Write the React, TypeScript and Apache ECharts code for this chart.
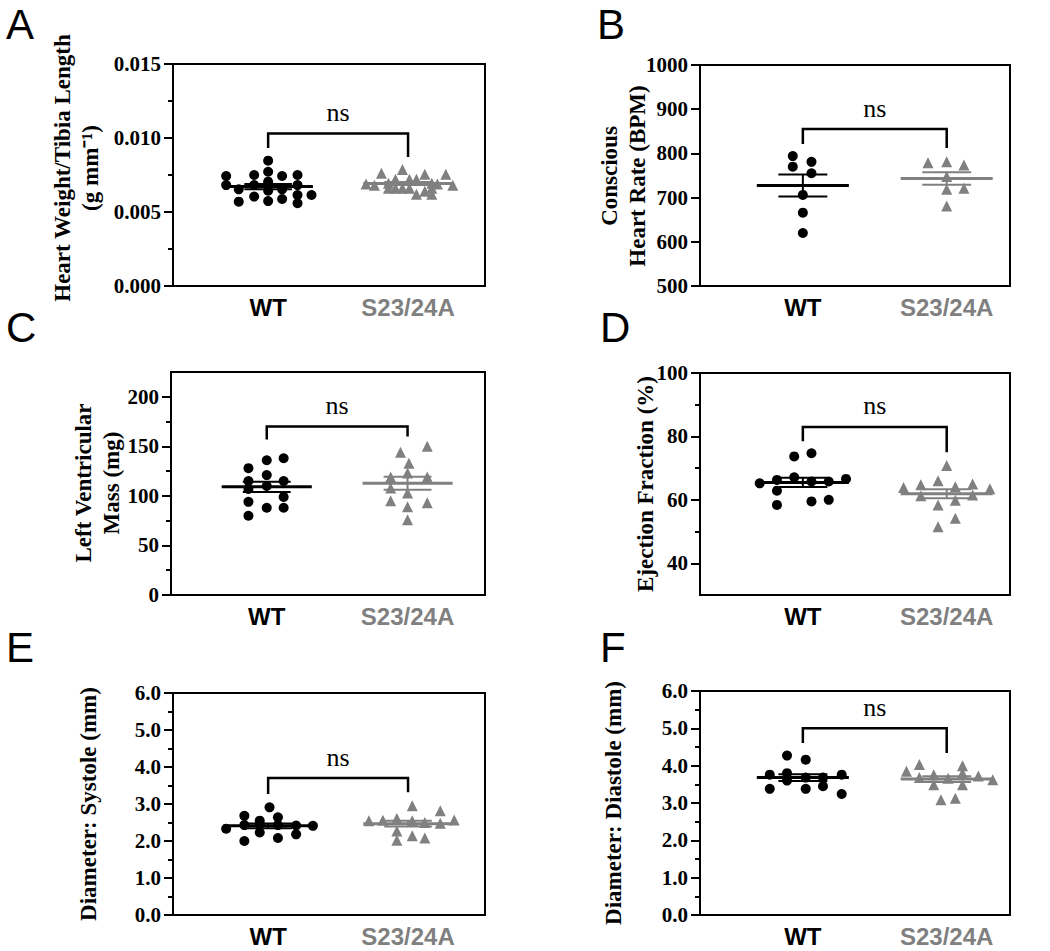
import React, { useEffect, useRef } from "react";
import * as echarts from "echarts";

// ---------- categories ----------
const categories = ["WT", "S23/24A"];

// ---------- Panel A: Heart weight / tibia length ----------
const hwWT = [0.00743, 0.00682, 0.00653, 0.0057, 0.0075, 0.00682, 0.00604, 0.00847, 0.00772, 0.00705, 0.00644, 0.00574, 0.00743, 0.00653, 0.00588, 0.0075, 0.00682, 0.00615, 0.00559, 0.00615];
const hwWTJitter = [-0.3, -0.3, -0.21, -0.21, -0.1, -0.1, -0.1, 0, 0, 0, 0, 0, 0.1, 0.1, 0.1, 0.21, 0.21, 0.21, 0.21, 0.31];
const hwS = [0.00761, 0.00788, 0.00755, 0.00755, 0.0069, 0.0068, 0.00721, 0.00721, 0.00721, 0.00694, 0.00694, 0.0069, 0.0068, 0.0066, 0.0066, 0.0066, 0.0066, 0.0064, 0.0066, 0.0062, 0.0062];
const hwSJitter = [-0.19, -0.04, 0.12, 0.27, -0.3, -0.24, -0.09, 0.01, 0.06, -0.14, 0.17, 0.21, 0.32, -0.14, -0.09, -0.04, 0.01, 0.12, 0.17, 0.06, 0.17];
const hwTicks = [0, 0.005, 0.01, 0.015];
const hwMinor = [0.0025, 0.0075, 0.0125];
const hwBracket = [0.0103, 0.00932, 0.00872];

// ---------- Panel B: Conscious heart rate ----------
const hrWT = [794, 770, 781, 755, 706, 666, 620];
const hrWTJitter = [-0.07, -0.07, 0.06, 0.06, 0, 0, 0];
const hrS = [779, 781, 774, 748, 719, 721, 681];
const hrSJitter = [-0.13, 0, 0.12, 0, 0, 0.12, 0];
const hrTicks = [500, 600, 700, 800, 900, 1000];
const hrMinor: number[] = [];
const hrBracket = [855, 821, 812];

// ---------- Panel C: Left ventricular mass ----------
const lvWT = [128, 115, 107, 94, 80, 136, 121, 110, 88, 138, 115, 99, 88];
const lvWTJitter = [-0.13, -0.13, -0.13, -0.13, -0.13, 0, 0, 0, 0, 0.12, 0.12, 0.12, 0.12];
const lvS = [133, 150, 119, 123, 119, 108, 103, 95, 93, 89, 76, 144];
const lvSJitter = [0.01, 0.14, -0.12, 0, 0.14, -0.12, 0, -0.12, 0.14, 0, 0, -0.05];
const lvTicks = [0, 50, 100, 150, 200];
const lvMinor = [25, 75, 125, 175];
const lvBracket = [170, 157, 160];

// ---------- Panel D: Ejection fraction ----------
const efWT = [65.2, 66.3, 62.9, 58.4, 73.7, 67.1, 74.7, 65.8, 59.5, 65.8, 60.0, 66.6];
const efWTJitter = [-0.3, -0.18, -0.18, -0.18, -0.06, -0.06, 0.06, 0.06, 0.06, 0.18, 0.18, 0.3];
const efS = [63.9, 64.8, 61.3, 66.0, 58.4, 51.5, 70.8, 64.1, 59.9, 54.2, 65.0, 61.5, 63.5];
const efSJitter = [-0.3, -0.18, -0.18, -0.06, -0.06, -0.06, 0, 0.06, 0.06, 0.06, 0.18, 0.18, 0.3];
const efTicks = [40, 60, 80, 100];
const efMinor = [50, 70, 90];
const efBracket = [83, 78.5, 75];

// ---------- Panel E: Diameter systole ----------
const dsWT = [2.91, 2.68, 2.64, 2.55, 2.33, 2.43, 2.45, 2.43, 2.42, 2.41, 2.23, 2.18, 2.08, 2.0];
const dsWTJitter = [0.01, -0.17, 0.07, -0.06, -0.3, -0.17, -0.06, 0.07, 0.2, 0.32, -0.06, 0.2, 0.07, -0.17];
const dsS = [2.95, 2.82, 2.57, 2.55, 2.56, 2.61, 2.27, 2.14, 2.08, 2.02, 2.5, 2.55, 2.48];
const dsSJitter = [0.03, 0.23, 0.33, -0.28, -0.18, -0.08, -0.08, 0.03, 0.12, -0.08, 0.12, 0.03, 0.23];
const dsTicks = [0, 1, 2, 3, 4, 5, 6];
const dsMinor = [0.5, 1.5, 2.5, 3.5, 4.5, 5.5];
const dsBracket = [3.7, 3.27, 3.32];

// ---------- Panel F: Diameter diastole ----------
const ddWT = [4.27, 4.16, 3.76, 3.8, 3.6, 3.68, 3.76, 3.38, 3.38, 3.45, 3.24, 3.68];
const ddWTJitter = [-0.11, 0.02, -0.23, -0.11, -0.11, 0.02, 0.27, -0.23, 0.02, 0.14, 0.27, 0.14];
const ddS = [3.85, 4.03, 3.76, 3.49, 4.0, 3.8, 3.49, 3.09, 3.13, 3.72, 3.62, 3.68, 3.66];
const ddSJitter = [-0.28, -0.19, -0.09, -0.09, 0.11, 0.11, 0.11, -0.04, 0.06, 0.22, 0.32, -0.19, 0.01];
const ddTicks = [0, 1, 2, 3, 4, 5, 6];
const ddMinor = [0.5, 1.5, 2.5, 3.5, 4.5, 5.5];
const ddBracket = [5.0, 4.61, 4.34];

// ---------- styles ----------
const WT_COLOR = "#000000";
const S_COLOR = "#808080";
const SERIF = "'Liberation Serif', 'Times New Roman', serif";
const SANS = "'Liberation Sans', Arial, sans-serif";

type Panel = {
  letter: string;
  letterPos: [number, number];
  title: string;
  titlePos: [number, number];
  grid: { left: number; top: number; width: number; height: number };
  xRange: [number, number];
  yRange: [number, number];
  ticks: number[];
  minor: number[];
  fmt: (v: number) => string;
  wt: number[];
  wtJ: number[];
  s: number[];
  sJ: number[];
  bracket: number[];
};

const LEFT_X: [number, number] = [0.32, 2.55];
const RIGHT_X: [number, number] = [0.285, 2.44];

const panels: Panel[] = [
  {
    letter: "A", letterPos: [6, 3],
    title: "Heart Weight/Tibia Length\n(g mm\u207B\u00B9)", titlePos: [76, 168],
    grid: { left: 173, top: 64, width: 312, height: 222 }, xRange: LEFT_X,
    yRange: [0, 0.015], ticks: hwTicks, minor: hwMinor, fmt: (v) => v.toFixed(3),
    wt: hwWT, wtJ: hwWTJitter, s: hwS, sJ: hwSJitter, bracket: hwBracket,
  },
  {
    letter: "B", letterPos: [597, 3],
    title: "Conscious\nHeart Rate (BPM)", titlePos: [623, 176],
    grid: { left: 700, top: 65, width: 310, height: 221 }, xRange: RIGHT_X,
    yRange: [500, 1000], ticks: hrTicks, minor: hrMinor, fmt: (v) => String(v),
    wt: hrWT, wtJ: hrWTJitter, s: hrS, sJ: hrSJitter, bracket: hrBracket,
  },
  {
    letter: "C", letterPos: [6, 306],
    title: "Left Ventricular\nMass (mg)", titlePos: [97, 483],
    grid: { left: 171, top: 372, width: 314, height: 223 }, xRange: LEFT_X,
    yRange: [0, 225], ticks: lvTicks, minor: lvMinor, fmt: (v) => String(v),
    wt: lvWT, wtJ: lvWTJitter, s: lvS, sJ: lvSJitter, bracket: lvBracket,
  },
  {
    letter: "D", letterPos: [600, 306],
    title: "Ejection Fraction (%)", titlePos: [645, 484],
    grid: { left: 700, top: 373, width: 310, height: 222 }, xRange: RIGHT_X,
    yRange: [30, 100], ticks: efTicks, minor: efMinor, fmt: (v) => String(v),
    wt: efWT, wtJ: efWTJitter, s: efS, sJ: efSJitter, bracket: efBracket,
  },
  {
    letter: "E", letterPos: [6, 626],
    title: "Diameter: Systole (mm)", titlePos: [88, 804],
    grid: { left: 173, top: 693, width: 312, height: 222 }, xRange: LEFT_X,
    yRange: [0, 6], ticks: dsTicks, minor: dsMinor, fmt: (v) => v.toFixed(1),
    wt: dsWT, wtJ: dsWTJitter, s: dsS, sJ: dsSJitter, bracket: dsBracket,
  },
  {
    letter: "F", letterPos: [600, 626],
    title: "Diameter: Diastole (mm)", titlePos: [613, 803],
    grid: { left: 700, top: 691, width: 310, height: 224 }, xRange: RIGHT_X,
    yRange: [0, 6], ticks: ddTicks, minor: ddMinor, fmt: (v) => v.toFixed(1),
    wt: ddWT, wtJ: ddWTJitter, s: ddS, sJ: ddSJitter, bracket: ddBracket,
  },
];

function meanSem(arr: number[]): [number, number] {
  const n = arr.length;
  const m = arr.reduce((a, b) => a + b, 0) / n;
  const v = arr.reduce((a, b) => a + (b - m) * (b - m), 0) / (n - 1);
  return [m, Math.sqrt(v / n)];
}

function buildOption() {
  const grid: any[] = [];
  const xAxis: any[] = [];
  const yAxis: any[] = [];
  const series: any[] = [];
  const graphic: any[] = [];

  panels.forEach((p, i) => {
    grid.push({ ...p.grid, show: true, borderColor: "#000", borderWidth: 2, backgroundColor: "transparent" });
    xAxis.push({
      gridIndex: i, type: "value", min: p.xRange[0], max: p.xRange[1],
      axisLine: { show: false }, axisTick: { show: false }, splitLine: { show: false },
      axisLabel: {
        customValues: [1, 2], margin: 9,
        formatter: (v: number) => (Math.abs(v - 1) < 1e-6 ? `{wt|${categories[0]}}` : `{s|${categories[1]}}`),
        rich: {
          wt: { color: WT_COLOR, fontFamily: SANS, fontWeight: "bold", fontSize: 24 },
          s: { color: S_COLOR, fontFamily: SANS, fontWeight: "bold", fontSize: 24 },
        },
      },
    });
    yAxis.push({
      gridIndex: i, type: "value", min: p.yRange[0], max: p.yRange[1], position: "left",
      axisLine: { show: true, lineStyle: { color: "#000", width: 2 } },
      axisTick: { show: true, customValues: p.ticks, length: 9, lineStyle: { color: "#000", width: 2 } },
      axisLabel: {
        customValues: p.ticks, formatter: p.fmt, margin: 12,
        fontFamily: SERIF, fontWeight: "bold", fontSize: 21, color: "#000",
      },
      splitLine: { show: false },
    });
    yAxis.push({
      gridIndex: i, type: "value", min: p.yRange[0], max: p.yRange[1], position: "left",
      axisLine: { show: false },
      axisTick: { show: p.minor.length > 0, customValues: p.minor.length ? p.minor : undefined, length: 5, lineStyle: { color: "#000", width: 2 } },
      axisLabel: { show: false },
      splitLine: { show: false },
    });
    const yIdx = i * 2;
    series.push({
      type: "scatter", xAxisIndex: i, yAxisIndex: yIdx, symbol: "circle", symbolSize: 10,
      itemStyle: { color: WT_COLOR, opacity: 1 }, data: p.wt.map((v, k) => [1 + p.wtJ[k], v]), z: 2,
    });
    series.push({
      type: "scatter", xAxisIndex: i, yAxisIndex: yIdx, symbol: "triangle", symbolSize: 11,
      itemStyle: { color: S_COLOR, opacity: 1 }, data: p.s.map((v, k) => [2 + p.sJ[k], v]), z: 2,
    });
    const [mw, sw] = meanSem(p.wt);
    const [ms, ss] = meanSem(p.s);
    series.push({
      type: "custom", xAxisIndex: i, yAxisIndex: yIdx, z: 5,
      data: [[1, mw, sw, 0], [2, ms, ss, 1]],
      renderItem: (_params: any, api: any) => {
        const cx = api.value(0), m = api.value(1), se = api.value(2), g = api.value(3);
        const color = g === 0 ? WT_COLOR : S_COLOR;
        const a = api.coord([cx - 0.32, m]), b = api.coord([cx + 0.32, m]);
        const tl = api.coord([cx - 0.17, m + se]), tr = api.coord([cx + 0.17, m + se]);
        const bl = api.coord([cx - 0.17, m - se]), br = api.coord([cx + 0.17, m - se]);
        const vt = api.coord([cx, m + se]), vb = api.coord([cx, m - se]);
        const ln = (p1: number[], p2: number[], w: number) => ({
          type: "line", shape: { x1: p1[0], y1: p1[1], x2: p2[0], y2: p2[1] }, style: { stroke: color, lineWidth: w },
        });
        return { type: "group", children: [ln(a, b, 3), ln(tl, tr, 2), ln(bl, br, 2), ln(vt, vb, 2)] };
      },
    });
    series.push({
      type: "custom", xAxisIndex: i, yAxisIndex: yIdx, z: 5,
      data: [p.bracket],
      renderItem: (_params: any, api: any) => {
        const yH = api.value(0), yL = api.value(1), yR = api.value(2);
        const p1 = api.coord([1, yL]), p2 = api.coord([1, yH]), p3 = api.coord([2, yH]), p4 = api.coord([2, yR]);
        return {
          type: "group",
          children: [
            { type: "polyline", shape: { points: [p1, p2, p3, p4] }, style: { stroke: "#000", lineWidth: 2.5, fill: null } },
            {
              type: "text", x: (p2[0] + p3[0]) / 2, y: p2[1] - 8,
              style: { text: "ns", fill: "#000", font: `26px ${SERIF}`, align: "center", verticalAlign: "bottom" },
            },
          ],
        };
      },
    });

    graphic.push({
      type: "text", x: p.letterPos[0], y: p.letterPos[1],
      style: { text: p.letter, fill: "#000", font: `42px ${SANS}`, align: "left", verticalAlign: "top" },
    });
    graphic.push({
      type: "text", x: p.titlePos[0], y: p.titlePos[1], rotation: Math.PI / 2,
      style: {
        text: p.title, fill: "#000", font: `bold 23px ${SERIF}`, lineHeight: 28,
        align: "center", verticalAlign: "middle",
      },
    });
  });

  return { animation: false, backgroundColor: "#fff", grid, xAxis, yAxis, series, graphic };
}

export default function App() {
  const ref = useRef<HTMLDivElement>(null);
  useEffect(() => {
    document.body.style.margin = "0";
    const chart = echarts.init(ref.current as HTMLDivElement, null, { renderer: "svg" });
    chart.setOption(buildOption() as any);
    return () => chart.dispose();
  }, []);
  return <div ref={ref} style={{ width: 1050, height: 951 }} />;
}
